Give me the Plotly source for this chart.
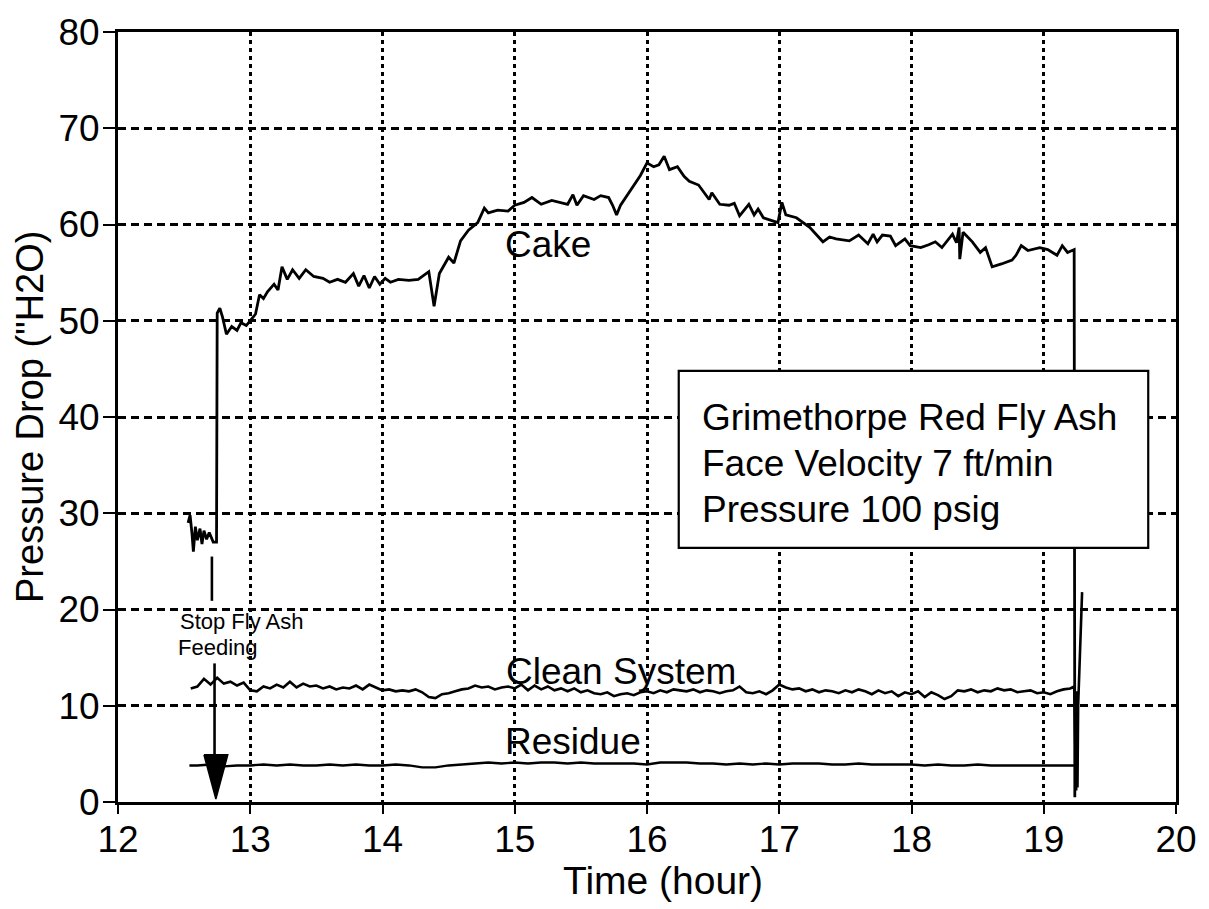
import plotly.graph_objects as go

# ---------------- data ----------------
cake_t = [12.53, 12.545, 12.56, 12.57, 12.585, 12.6, 12.62, 12.635, 12.65, 12.67, 12.69, 12.72, 12.745,
          12.75, 12.77, 12.79, 12.82, 12.86, 12.9, 12.93, 12.97, 13.0, 13.04, 13.07, 13.1, 13.13, 13.18,
          13.21, 13.24, 13.28, 13.32, 13.37, 13.42, 13.48, 13.55, 13.6, 13.66, 13.72, 13.78, 13.82, 13.86,
          13.9, 13.94, 13.98, 14.02, 14.06, 14.12, 14.2, 14.27, 14.35, 14.39, 14.43, 14.5, 14.54, 14.59,
          14.65, 14.72, 14.77, 14.8, 14.87, 14.95, 15.0, 15.07, 15.13, 15.2, 15.28, 15.34, 15.4, 15.44,
          15.47, 15.52, 15.6, 15.65, 15.71, 15.74, 15.77, 15.8, 15.85, 15.9, 15.95, 16.0, 16.05, 16.09,
          16.13, 16.17, 16.23, 16.28, 16.32, 16.39, 16.47, 16.49, 16.55, 16.62, 16.66, 16.7, 16.77, 16.81,
          16.84, 16.88, 16.95, 16.99, 17.02, 17.05, 17.13, 17.23, 17.33, 17.38, 17.43, 17.53, 17.6, 17.67,
          17.71, 17.74, 17.78, 17.84, 17.88, 17.95, 17.99, 18.07, 18.13, 18.18, 18.23, 18.31, 18.34, 18.36,
          18.365, 18.39, 18.46, 18.52, 18.56, 18.61, 18.68, 18.76, 18.79, 18.83, 18.88, 18.97, 19.03, 19.1,
          19.14, 19.18, 19.23, 19.235]
cake_p = [29.0, 29.8, 27.8, 26.0, 28.6, 27.2, 28.4, 26.8, 28.2, 27.3, 28.0, 27.0, 27.0,
          50.8, 51.3, 50.4, 48.6, 49.4, 49.0, 49.8, 49.5, 50.0, 50.7, 52.7, 52.3, 53.0, 53.8,
          53.2, 55.6, 54.3, 55.3, 54.4, 55.3, 54.6, 54.4, 54.0, 54.3, 54.0, 54.9, 53.6, 54.7,
          53.4, 54.6, 53.8, 54.4, 54.0, 54.3, 54.2, 54.3, 55.1, 51.5, 54.9, 56.6, 56.0, 58.3,
          59.4, 60.2, 61.7, 61.2, 61.5, 61.4, 62.0, 62.3, 62.8, 62.1, 62.5, 62.3, 62.1, 63.1,
          62.0, 63.0, 62.6, 63.0, 62.8, 62.0, 61.0, 62.0, 63.0, 64.1, 65.1, 66.4, 66.0, 66.2,
          67.1, 65.7, 66.0, 65.0, 64.5, 64.1, 62.6, 63.3, 62.1, 62.0, 62.2, 60.9, 62.1, 61.0,
          61.6, 60.7, 60.4, 60.2, 62.3, 61.0, 60.7, 59.7, 58.2, 58.7, 58.5, 58.3, 58.9, 58.0,
          59.0, 58.2, 58.9, 58.8, 57.8, 58.5, 57.8, 57.6, 57.9, 58.2, 57.6, 59.0, 58.1, 59.7,
          56.4, 59.2, 58.2, 57.1, 57.6, 55.6, 55.9, 56.3, 56.8, 57.8, 57.3, 57.6, 57.4, 56.8,
          57.8, 57.1, 57.4, 0.5]

clean_t = [12.55, 12.6, 12.65, 12.7, 12.75, 12.8, 12.85, 12.9, 12.95, 13.0, 13.05, 13.1, 13.15, 13.2,
           13.25, 13.3, 13.35, 13.4, 13.45, 13.5, 13.55, 13.6, 13.65, 13.7, 13.75, 13.8, 13.85, 13.9,
           13.95, 14.0, 14.05, 14.1, 14.15, 14.2, 14.25, 14.3, 14.35, 14.4, 14.45, 14.5, 14.55, 14.6,
           14.65, 14.7, 14.75, 14.8, 14.85, 14.9, 14.95, 15.0, 15.05, 15.1, 15.15, 15.2, 15.25, 15.3,
           15.35, 15.4, 15.45, 15.5, 15.55, 15.6, 15.65, 15.7, 15.75, 15.8, 15.85, 15.9, 15.95, 16.0,
           16.05, 16.1, 16.15, 16.2, 16.25, 16.3, 16.35, 16.4, 16.45, 16.5, 16.55, 16.6, 16.65, 16.7,
           16.75, 16.8, 16.85, 16.9, 16.95, 17.0, 17.05, 17.1, 17.15, 17.2, 17.25, 17.3, 17.35, 17.4,
           17.45, 17.5, 17.55, 17.6, 17.65, 17.7, 17.75, 17.8, 17.85, 17.9, 17.95, 18.0, 18.05, 18.1,
           18.15, 18.2, 18.25, 18.3, 18.35, 18.4, 18.45, 18.5, 18.55, 18.6, 18.65, 18.7, 18.75, 18.8,
           18.85, 18.9, 18.95, 19.0, 19.05, 19.1, 19.15, 19.2, 19.23,
           19.245, 19.25, 19.255, 19.26, 19.29]
clean_p = [11.8, 12.0, 12.8, 12.2, 12.9, 12.3, 12.5, 12.1, 12.4, 11.6, 11.5, 12.0, 11.8, 12.2,
           11.9, 12.5, 11.9, 12.3, 12.0, 12.1, 11.8, 12.0, 11.7, 11.9, 11.8, 12.1, 11.7, 12.2,
           11.9, 11.6, 11.7, 11.5, 11.6, 11.5, 11.7, 11.4, 10.9, 10.8, 11.2, 11.3, 11.5, 11.7,
           11.8, 12.1, 11.9, 12.0, 11.7, 11.9, 12.0, 11.8, 12.2, 11.6, 12.1, 11.7, 12.0, 11.6,
           11.8, 11.5, 11.8, 11.4, 11.6, 11.3, 11.2, 11.4, 11.0, 11.2, 11.3, 11.1, 11.4, 11.5,
           11.3, 11.6, 11.4, 11.7, 11.6, 11.5, 11.7, 11.4, 11.6, 11.5, 11.3, 11.5, 11.6, 12.0,
           11.4, 11.3, 11.5, 11.2, 11.6, 12.2, 11.9, 11.7, 11.8, 11.5, 11.7, 11.4, 11.6, 11.5,
           11.3, 11.6, 11.4, 11.7, 11.5, 11.2, 11.6, 11.3, 11.5, 11.0, 11.4, 11.2, 11.5, 10.9,
           11.4, 11.1, 10.7, 11.0, 11.6, 11.5, 11.7, 11.4, 11.6, 11.5, 11.8, 11.6, 11.7, 11.4,
           11.5, 11.6, 11.3, 11.4, 11.2, 11.5, 11.7, 11.8, 12.0,
           1.2, 11.5, 1.5, 10.0, 21.8]

residue_t = [12.54, 12.6, 12.7, 12.8, 12.9, 13.0, 13.1, 13.2, 13.3, 13.4, 13.5, 13.6, 13.7, 13.8, 13.9,
             14.0, 14.1, 14.2, 14.3, 14.4, 14.5, 14.6, 14.7, 14.8, 14.9, 15.0, 15.1, 15.2, 15.3, 15.4,
             15.5, 15.6, 15.7, 15.8, 15.9, 16.0, 16.1, 16.2, 16.3, 16.4, 16.5, 16.6, 16.7, 16.8, 16.9,
             17.0, 17.1, 17.2, 17.3, 17.4, 17.5, 17.6, 17.7, 17.8, 17.9, 18.0, 18.1, 18.2, 18.3, 18.4,
             18.5, 18.6, 18.7, 18.8, 18.9, 19.0, 19.1, 19.2, 19.23]
residue_p = [3.8, 3.8, 3.9, 3.7, 3.8, 3.8, 3.9, 3.8, 3.9, 3.8, 3.8, 3.9, 3.8, 3.9, 3.8,
             3.8, 3.9, 3.8, 3.6, 3.6, 3.8, 3.9, 4.0, 4.1, 4.0, 4.1, 4.0, 4.1, 4.1, 4.0,
             4.1, 4.0, 4.0, 4.0, 4.0, 3.9, 4.1, 4.1, 4.1, 4.0, 4.0, 3.9, 4.0, 3.9, 4.0,
             3.9, 4.0, 4.0, 4.0, 3.9, 3.9, 4.0, 3.9, 3.9, 3.9, 3.9, 3.8, 3.9, 3.8, 3.8,
             3.9, 3.8, 3.8, 3.8, 3.8, 3.8, 3.8, 3.8, 3.8]

x_ticks = [12, 13, 14, 15, 16, 17, 18, 19, 20]
y_ticks = [0, 10, 20, 30, 40, 50, 60, 70, 80]

# annotation geometry (data units)
arrow_upper_x = [12.71, 12.71]
arrow_upper_y = [25.5, 20.9]
arrow_lower_x = [12.73, 12.73]
arrow_lower_y = [14.4, 4.9]
arrow_head_x = [12.65, 12.83, 12.74, 12.65]
arrow_head_y = [4.9, 4.9, 0.3, 4.9]

box_x = [16.24, 19.79]
box_y = [26.4, 44.8]
box_lines = ["Grimethorpe Red Fly Ash", "Face Velocity 7 ft/min", "Pressure 100 psig"]
box_line_y = [40.0, 35.2, 30.4]
box_text_x = 16.40

FONT = "Liberation Sans, Arial, Helvetica, sans-serif"

fig = go.Figure()
fig.add_trace(go.Scatter(x=cake_t, y=cake_p, mode="lines", line=dict(color="black", width=2.8), showlegend=False))
fig.add_trace(go.Scatter(x=clean_t, y=clean_p, mode="lines", line=dict(color="black", width=2.6), showlegend=False))
fig.add_trace(go.Scatter(x=residue_t, y=residue_p, mode="lines", line=dict(color="black", width=2.4), showlegend=False))
fig.add_trace(go.Scatter(x=arrow_upper_x, y=arrow_upper_y, mode="lines", line=dict(color="black", width=2.6), showlegend=False))
fig.add_trace(go.Scatter(x=arrow_lower_x, y=arrow_lower_y, mode="lines", line=dict(color="black", width=2.6), showlegend=False))
fig.add_trace(go.Scatter(x=arrow_head_x, y=arrow_head_y, mode="lines", fill="toself", fillcolor="black",
                         line=dict(color="black", width=1.5), showlegend=False))

fig.add_shape(type="rect", xref="x", yref="y", x0=box_x[0], x1=box_x[1], y0=box_y[0], y1=box_y[1],
              line=dict(color="black", width=2.2), fillcolor="white", layer="above")
for txt, yy in zip(box_lines, box_line_y):
    fig.add_annotation(x=box_text_x, y=yy, text=txt, showarrow=False, xanchor="left", yanchor="middle",
                       font=dict(family=FONT, size=37, color="black"))

labels = [("Cake", 15.25, 57.9), ("Clean System", 15.8, 13.6), ("Residue", 15.44, 6.3)]
for txt, xx, yy in labels:
    fig.add_annotation(x=xx, y=yy, text=txt, showarrow=False, xanchor="center", yanchor="middle",
                       font=dict(family=FONT, size=37, color="black"))

fig.add_annotation(x=12.45, y=18.8, text="Stop Fly Ash", showarrow=False, xanchor="left", yanchor="middle",
                   font=dict(family=FONT, size=22, color="black"))
fig.add_annotation(x=12.44, y=16.1, text="Feeding", showarrow=False, xanchor="left", yanchor="middle",
                   font=dict(family=FONT, size=22, color="black"))

# axis titles
fig.add_annotation(x=16.12, xref="x", y=0, yref="paper", yanchor="middle", yshift=-78,
                   text="Time (hour)", showarrow=False, font=dict(family=FONT, size=39, color="black"))
fig.add_annotation(x=0, xref="paper", xshift=-88, y=0.5, yref="paper", textangle=-90,
                   xanchor="center", yanchor="middle",
                   text="Pressure Drop (\"H2O)", showarrow=False, font=dict(family=FONT, size=38, color="black"))

fig.update_layout(
    width=1209, height=909,
    margin=dict(l=118, r=26, t=23, b=107),
    paper_bgcolor="white", plot_bgcolor="white",
    font=dict(family=FONT, color="black"),
)
fig.update_xaxes(
    range=[12, 20], tickvals=x_ticks, ticktext=[str(v) for v in x_ticks],
    showgrid=True, gridcolor="black", gridwidth=2.5, griddash="4px,4px",
    showline=True, linecolor="black", linewidth=2.8, mirror=True,
    ticks="outside", ticklen=9, tickwidth=2.2, tickcolor="black",
    ticklabelstandoff=-6,
    tickfont=dict(family=FONT, size=37, color="black"),
    zeroline=False,
)
fig.update_yaxes(
    range=[0, 80], tickvals=y_ticks, ticktext=[str(v) for v in y_ticks],
    showgrid=True, gridcolor="black", gridwidth=2.5, griddash="8px,5px",
    showline=True, linecolor="black", linewidth=2.8, mirror=True,
    ticks="outside", ticklen=12, tickwidth=2.2, tickcolor="black",
    ticklabelstandoff=-4,
    tickfont=dict(family=FONT, size=37, color="black"),
    zeroline=False,
)

fig.write_html("out.html")
